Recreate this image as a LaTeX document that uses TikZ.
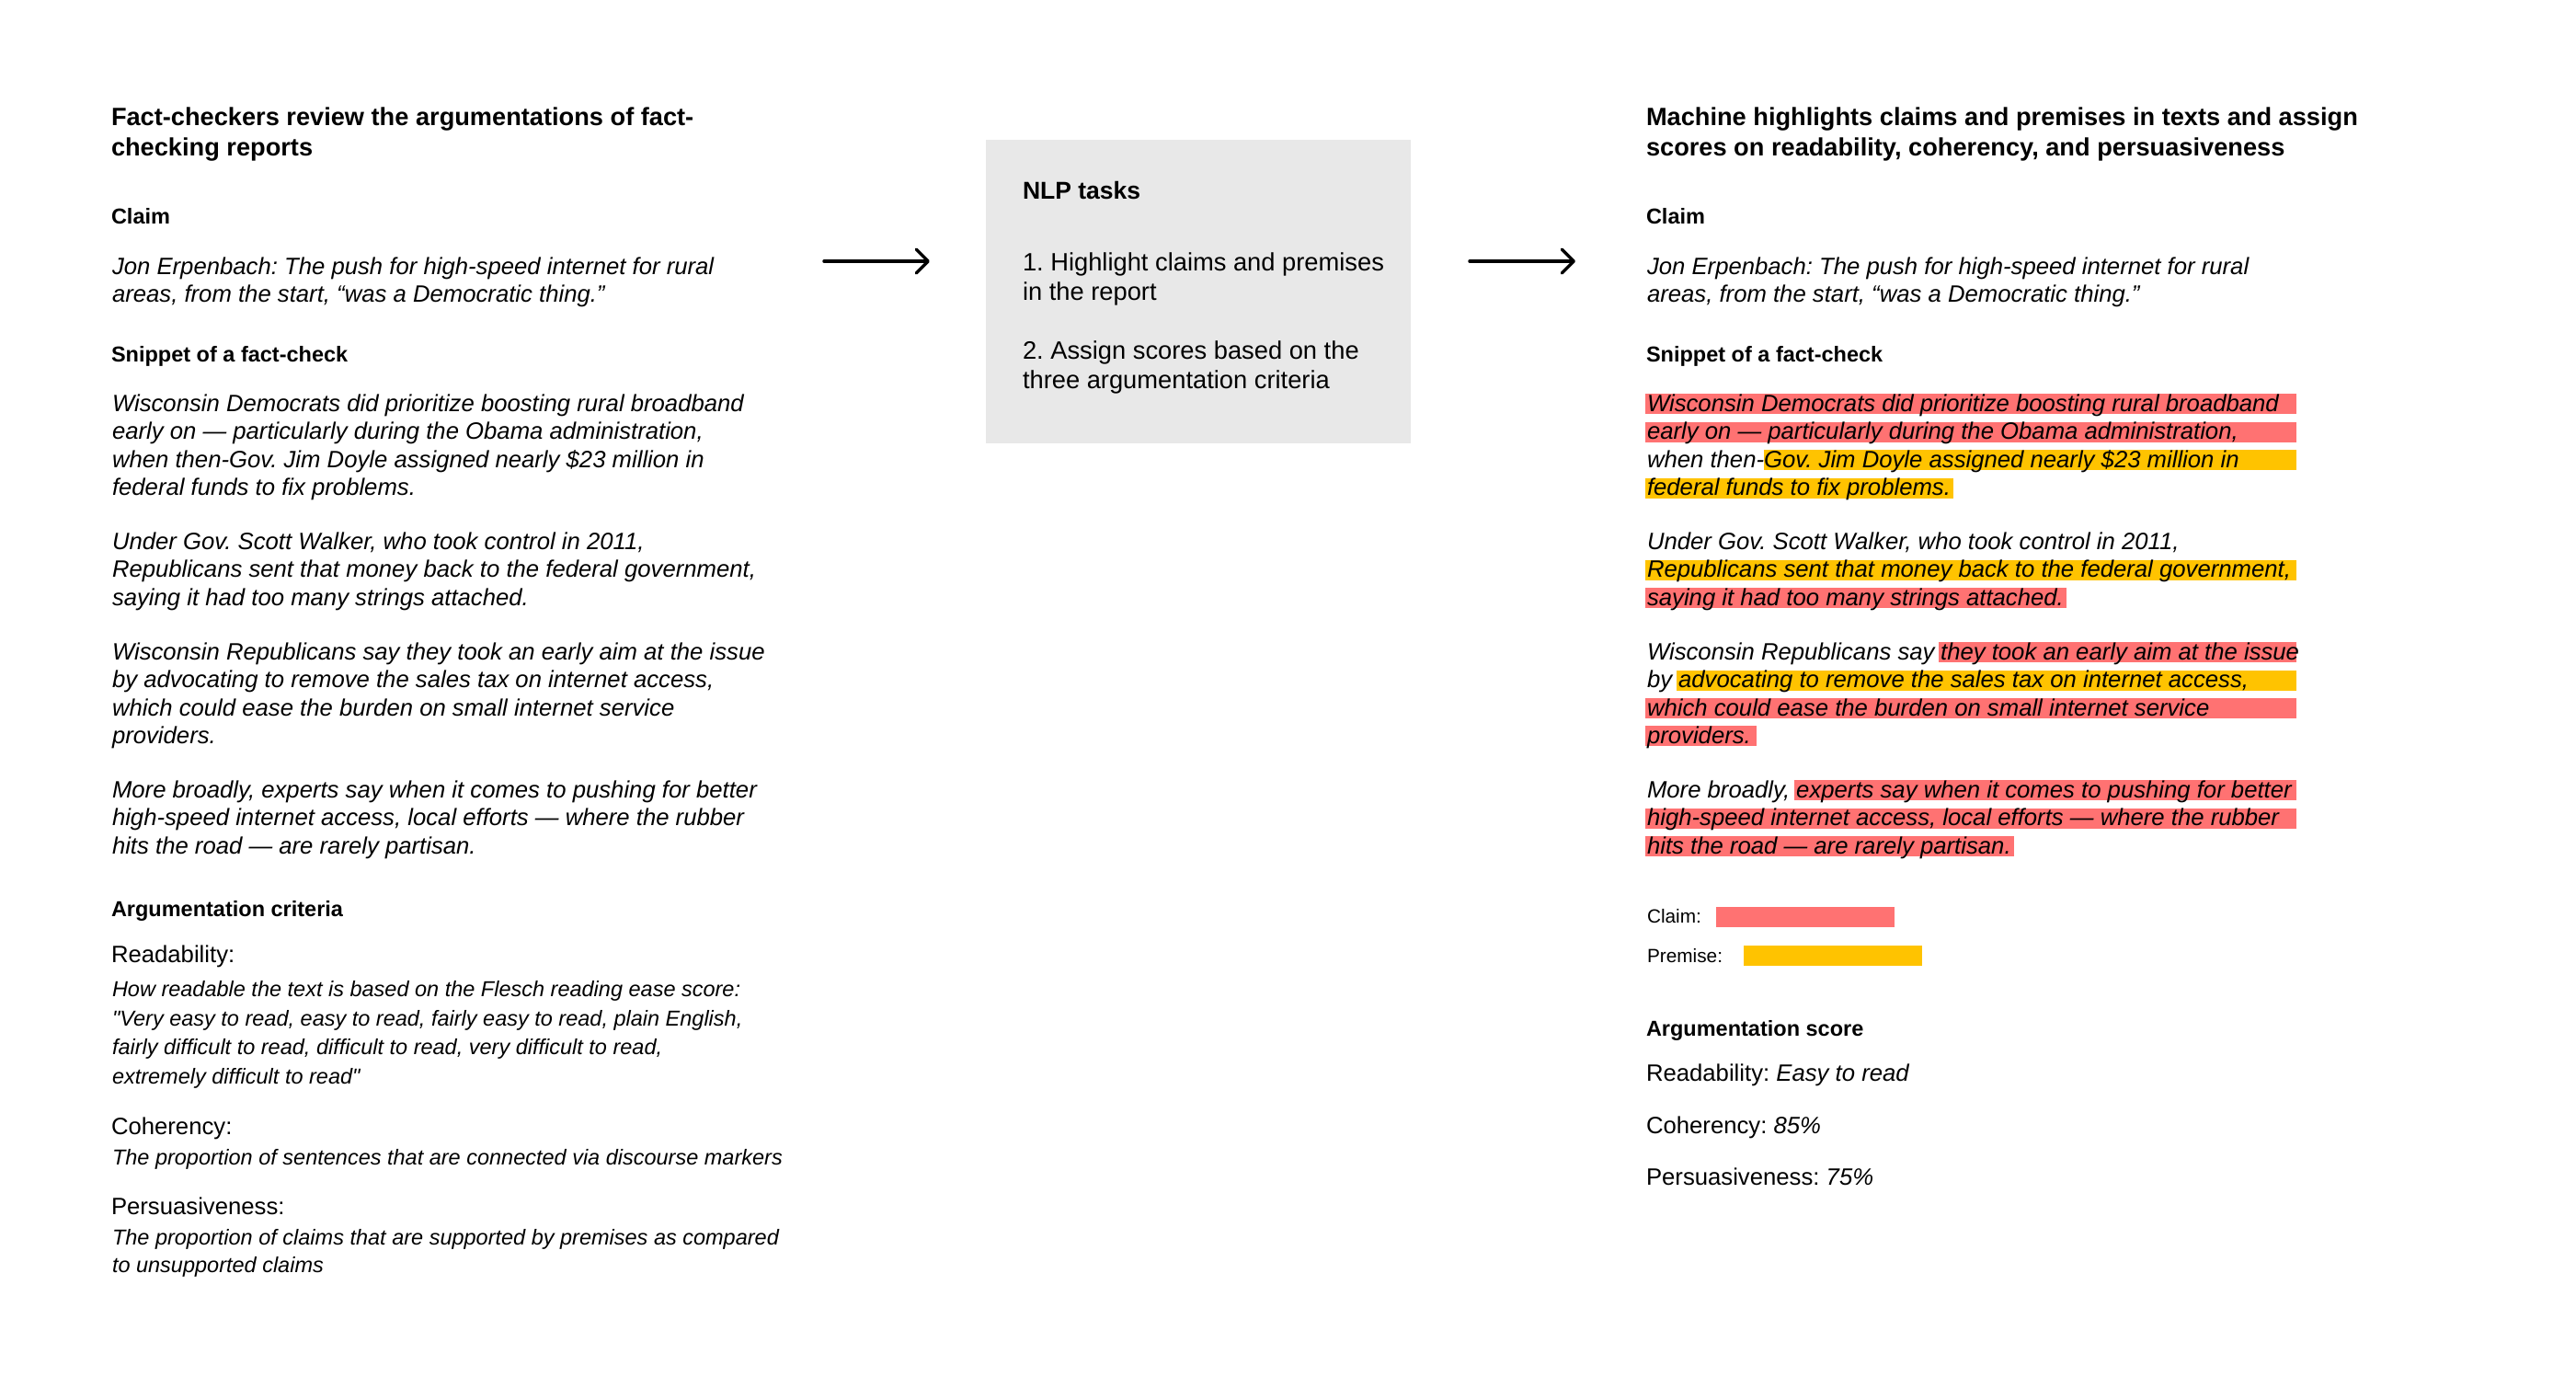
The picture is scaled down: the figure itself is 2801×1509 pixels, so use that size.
\documentclass[tikz,border=0pt]{standalone}
\usepackage{fontspec}
\setmainfont{Liberation Sans}
\newfontfamily\qfont{Liberation Sans}
\usetikzlibrary{arrows.meta,backgrounds,calc}
\definecolor{hlred}{RGB}{255,114,114}
\definecolor{hlyel}{RGB}{255,195,0}
\definecolor{boxgray}{RGB}{232,232,232}
\newcommand\sq{{\qfont\itshape "}}
\frenchspacing
\tikzset{
  tx/.style={inner sep=0pt, outer sep=0pt, anchor=base west},
  ttl/.style={tx, font=\fontsize{27.2}{33}\selectfont\bfseries},
  hd/.style={tx, font=\fontsize{23.5}{28}\selectfont\bfseries},
  bd/.style={tx, font=\fontsize{25.7}{30}\selectfont\itshape},
  up/.style={tx, font=\fontsize{25.7}{30}\selectfont},
  ds/.style={tx, font=\fontsize{23.5}{30}\selectfont\itshape},
  lg/.style={tx, font=\fontsize{20.8}{25}\selectfont},
  nlph/.style={tx, font=\fontsize{26.5}{32}\selectfont\bfseries},
  nlpt/.style={tx, font=\fontsize{27.3}{32}\selectfont},
  arr/.style={line width=3.5pt, line cap=round, -{Straight Barb[length=13pt,width=26pt,round]}},
  bar/.style={inner sep=0pt, outer sep=0pt, anchor=north west, minimum width=194pt, minimum height=22pt},
}
\begin{document}
\begin{tikzpicture}[x=1pt,y=-1pt]
\useasboundingbox (0,0) rectangle (2801,1509);

% ---------------- left column ----------------
\node[ttl] (lt1) at (121,137) {Fact-checkers review the argumentations of fact-};
\node[ttl] (lt2) at (121,170) {checking reports};
\node[hd] (lch) at (121,243) {Claim};
\node[bd] (lc1) at (122,298) {Jon Erpenbach: The push for high-speed internet for rural};
\node[bd] (lc2) at (122,328) {areas, from the start, “was a Democratic thing.”};
\node[hd] (lsh) at (121,393) {Snippet of a fact-check};

\node[bd] (l1a) at (122,447) {Wisconsin Democrats did prioritize boosting rural broadband};
\node[bd] (l1b) at (122,477.5) {early on — particularly during the Obama administration,};
\node[bd] (l1c) at (122,508) {when then-Gov. Jim Doyle assigned nearly \$23 million in};
\node[bd] (l1d) at (122,538.5) {federal funds to fix problems.};

\node[bd] (l2a) at (122,597) {Under Gov. Scott Walker, who took control in 2011,};
\node[bd] (l2b) at (122,627.5) {Republicans sent that money back to the federal government,};
\node[bd] (l2c) at (122,658) {saying it had too many strings attached.};

\node[bd] (l3a) at (122,717) {Wisconsin Republicans say they took an early aim at the issue};
\node[bd] (l3b) at (122,747.5) {by advocating to remove the sales tax on internet access,};
\node[bd] (l3c) at (122,778) {which could ease the burden on small internet service};
\node[bd] (l3d) at (122,808) {providers.};

\node[bd] (l4a) at (122,867) {More broadly, experts say when it comes to pushing for better};
\node[bd] (l4b) at (122,897.5) {high-speed internet access, local efforts — where the rubber};
\node[bd] (l4c) at (122,928) {hits the road — are rarely partisan.};

\node[hd] (lah) at (121,996) {Argumentation criteria};
\node[up] (lr) at (121,1046.5) {Readability:};
\node[ds] (lr1) at (122,1083) {How readable the text is based on the Flesch reading ease score:};
\node[ds] (lr2) at (122,1115) {\sq Very easy to read, easy to read, fairly easy to read, plain English,};
\node[ds] (lr3) at (122,1146.5) {fairly difficult to read, difficult to read, very difficult to read,};
\node[ds] (lr4) at (122,1178) {extremely difficult to read\sq};
\node[up] (lco) at (121,1233) {Coherency:};
\node[ds] (lco1) at (122,1266.5) {The proportion of sentences that are connected via discourse markers};
\node[up] (lpe) at (121,1320) {Persuasiveness:};
\node[ds] (lpe1) at (122,1353) {The proportion of claims that are supported by premises as compared};
\node[ds] (lpe2) at (122,1383.5) {to unsupported claims};

% ---------------- middle box ----------------
\node[fill=boxgray, inner sep=0pt, outer sep=0pt, anchor=north west,
      minimum width=462.5pt, minimum height=329.5pt] (box) at (1071.5,152.3) {};
\node[nlph] (nh) at (1112,216) {NLP tasks};
\node[nlpt] (n1a) at (1112,294) {1. Highlight claims and premises};
\node[nlpt] (n1b) at (1112,326) {in the report};
\node[nlpt] (n2a) at (1112,390) {2. Assign scores based on the};
\node[nlpt] (n2b) at (1112,422) {three argumentation criteria};

% arrows
\coordinate (a1s) at (896,284);
\coordinate (a1e) at (1011,284);
\coordinate (a2s) at (1598,284);
\coordinate (a2e) at (1713,284);
\draw[arr] (a1s) -- (a1e);
\draw[arr] (a2s) -- (a2e);

% ---------------- right column ----------------
\node[ttl] (rt1) at (1790,137) {Machine highlights claims and premises in texts and assign};
\node[ttl] (rt2) at (1790,170) {scores on readability, coherency, and persuasiveness};
\node[hd] (rch) at (1790,243) {Claim};
\node[bd] (rc1) at (1791,298) {Jon Erpenbach: The push for high-speed internet for rural};
\node[bd] (rc2) at (1791,328) {areas, from the start, “was a Democratic thing.”};
\node[hd] (rsh) at (1790,393) {Snippet of a fact-check};

\node[bd] (r1a) at (1791,447) {Wisconsin Democrats did prioritize boosting rural broadband};
\node[bd] (r1b) at (1791,477.5) {early on — particularly during the Obama administration,};
\node[bd] (r1c) at (1791,508) {when then-};
\node[bd] (r1d) at (r1c.base east) {Gov. Jim Doyle assigned nearly \$23 million in};
\node[bd] (r1e) at (1791,538.5) {federal funds to fix problems.};

\node[bd] (r2a) at (1791,597) {Under Gov. Scott Walker, who took control in 2011,};
\node[bd] (r2b) at (1791,627.5) {Republicans sent that money back to the federal government,};
\node[bd] (r2c) at (1791,658) {saying it had too many strings attached.};

\node[bd] (r3a) at (1791,717) {Wisconsin Republicans say};
\node[bd] (r3b) at ($(r3a.base east)+(6.5,0)$) {they took an early aim at the issue};
\node[bd] (r3c) at (1791,747.5) {by};
\node[bd] (r3d) at ($(r3c.base east)+(7,0)$) {advocating to remove the sales tax on internet access,};
\node[bd] (r3e) at (1791,778) {which could ease the burden on small internet service};
\node[bd] (r3f) at (1791,808) {providers.};

\node[bd] (r4a) at (1791,867) {More broadly,};
\node[bd] (r4b) at ($(r4a.base east)+(7,0)$) {experts say when it comes to pushing for better};
\node[bd] (r4c) at (1791,897.5) {high-speed internet access, local efforts — where the rubber};
\node[bd] (r4d) at (1791,928) {hits the road — are rarely partisan.};

\node[lg] (lgc) at (1791,1003) {Claim:};
\node[bar, fill=hlred] (cbar) at (1866,986) {};
\node[lg] (lgp) at (1791,1046) {Premise:};
\node[bar, fill=hlyel] (pbar) at (1896,1028) {};

\node[hd] (rah) at (1790,1126) {Argumentation score};
\node[up] (rs1) at (1790,1175) {Readability: \textit{Easy to read}};
\node[up] (rs2) at (1790,1232) {Coherency: \textit{85\%}};
\node[up] (rs3) at (1790,1288.5) {Persuasiveness: \textit{75\%}};

% highlights
\begin{scope}[on background layer]
\fill[white] (0,0) rectangle (2801,1509);
\fill[hlred] (1789,450) rectangle (2497,428);
\fill[hlred] (1789,480.5) rectangle (2497,458.5);
\fill[hlyel] ($(r1d.base west)+(0,3)$) rectangle (2497,489);
\fill[hlyel] ($(r1e.base west)+(-2,3)$) rectangle ($(r1e.base east)+(3,-19)$);
\fill[hlyel] (1789,630.5) rectangle (2497,608.5);
\fill[hlred] ($(r2c.base west)+(-2,3)$) rectangle ($(r2c.base east)+(3,-19)$);
\fill[hlred] ($(r3b.base west)+(-2,3)$) rectangle (2497,698);
\fill[hlyel] ($(r3d.base west)+(-2,3)$) rectangle (2497,728.5);
\fill[hlred] (1789,781) rectangle (2497,759);
\fill[hlred] ($(r3f.base west)+(-2,3)$) rectangle ($(r3f.base east)+(6,-19)$);
\fill[hlred] ($(r4b.base west)+(-2,3)$) rectangle (2497,848);
\fill[hlred] (1789,900.5) rectangle (2497,878.5);
\fill[hlred] ($(r4d.base west)+(-2,3)$) rectangle ($(r4d.base east)+(3,-19)$);
\end{scope}
\end{tikzpicture}
\end{document}
